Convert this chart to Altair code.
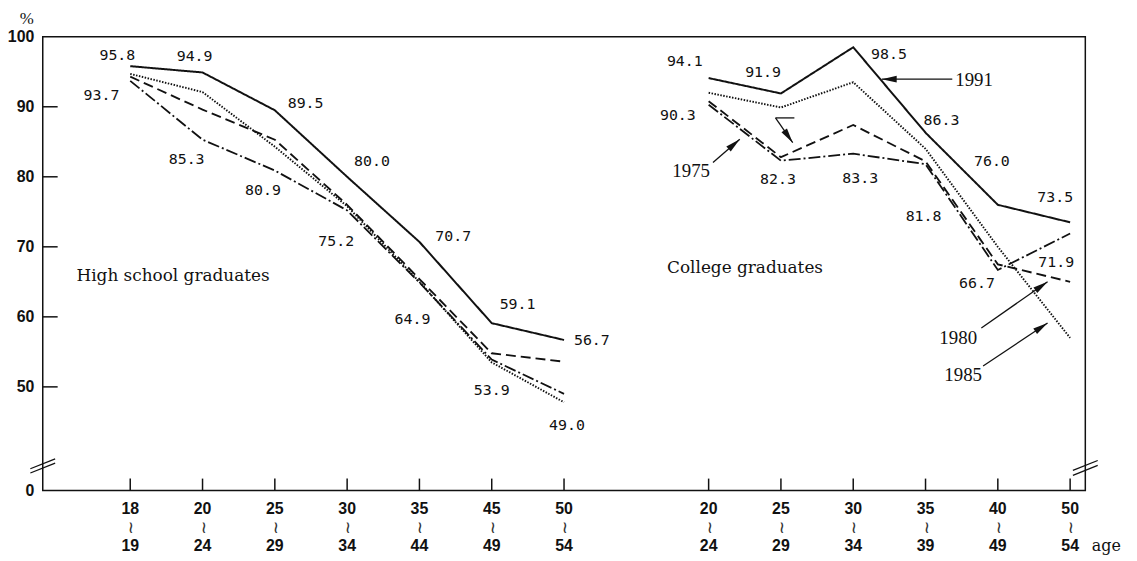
import math
import altair as alt
import pandas as pd

# ---------------- data ----------------
YEARS = ["1975", "1980", "1985", "1991"]

HS_TOP = ["18", "20", "25", "30", "35", "45", "50"]
HS_BOT = ["19", "24", "29", "34", "44", "49", "54"]
COL_TOP = ["20", "25", "30", "35", "40", "50"]
COL_BOT = ["24", "29", "34", "39", "49", "54"]

HS_1975 = [93.7, 85.3, 80.9, 75.2, 64.9, 53.9, 49.0]
HS_1980 = [94.3, 89.6, 85.3, 76.0, 65.4, 54.8, 53.6]
HS_1985 = [94.7, 92.1, 84.3, 75.8, 65.0, 53.5, 47.8]
HS_1991 = [95.8, 94.9, 89.5, 80.0, 70.7, 59.1, 56.7]

COL_1975 = [90.3, 82.3, 83.3, 81.8, 66.7, 71.9]
COL_1980 = [90.8, 82.8, 87.4, 82.2, 67.5, 65.0]
COL_1985 = [92.0, 89.9, 93.5, 84.0, 70.0, 57.0]
COL_1991 = [94.1, 91.9, 98.5, 86.3, 76.0, 73.5]

# slot positions on the shared x scale
HS_IDX = [0, 1, 2, 3, 4, 5, 6]
COL_IDX = [8, 9, 10, 11, 12, 13]

Y_TICKS = [50, 60, 70, 80, 90]
Y_LABEL_VALUES = [35.2, 50, 60, 70, 80, 90, 100]

# label offsets (pixels, relative to point) for labelled series
HS_1991_OFF = [(-13, -11), (-8, -17), (31, -7), (25, -16), (34, -6), (26, -19), (28, 0)]
HS_1975_OFF = [(-29, 14), (-16, 19), (-12, 20), (-11, 31), (-7, 37), (0, 31), (3, 31)]
COL_1991_OFF = [(-24, -17), (-18, -22), (36, 7), (16, -13), (-6, -44), (-15, -25)]
COL_1975_OFF = [(-31, 10), (-3, 18), (7, 25), (-2, 52), (-21, 13), (-14, 29)]

# annotations in data units
GROUP_TITLES = ["High school graduates", "College graduates"]
GROUP_TITLE_X = [-0.743, 7.425]
GROUP_TITLE_Y = [65.83, 66.96]

YEAR_NOTES = ["1991", "1975", "1980", "1985"]
YEAR_NOTE_X = [11.672, 7.758, 11.452, 11.52]
YEAR_NOTE_Y = [93.76, 80.79, 57.03, 51.64]

ARROW_TAIL_X = [11.37, 8.060, 11.772, 11.796, 8.925]
ARROW_TAIL_Y = [93.94, 82.03, 58.41, 52.98, 88.41]
ARROW_TIP_X = [10.395, 8.431, 12.688, 12.688, 9.163]
ARROW_TIP_Y = [93.94, 85.35, 65.02, 59.12, 84.87]
ELBOW_X = [8.925, 9.186]
ELBOW_Y = [88.41, 88.41]

BREAK_CX = [-1.21, -1.21, 13.21, 13.21]
BREAK_CY = [39.02, 38.41, 38.78, 38.07]

# ---------------- geometry ----------------
W, H = 1050, 457
X_DOMAIN = [-1.21, 13.21]
Y_DOMAIN = [35.2, 100]
PX_X = W / (X_DOMAIN[1] - X_DOMAIN[0])
PX_Y = H / (Y_DOMAIN[1] - Y_DOMAIN[0])

INK = "#111111"
NUM_FONT = "DejaVu Sans Mono"
AXIS_FONT = "Liberation Sans"
SERIF = "DejaVu Serif"
YEAR_FONT = "Liberation Serif"

xs = alt.Scale(domain=X_DOMAIN, nice=False, zero=False)
ys = alt.Scale(domain=Y_DOMAIN, nice=False, zero=False)
Y_AXIS = alt.Axis(
    values=Y_LABEL_VALUES,
    labelExpr="datum.value < 40 ? '0' : format(datum.value, 'd')",
    ticks=False, domain=False, grid=False, title=None,
    labelPadding=9, labelFontSize=16, labelFont=AXIS_FONT,
    labelFontWeight="bold", labelColor=INK, labelFlush=False,
    labelOverlap=False, labelBound=False,
)


def X(field):
    return alt.X(field, scale=xs, axis=None)


def Y(field):
    return alt.Y(field, scale=ys, axis=Y_AXIS)


# ---------------- tables ----------------
rows = []
for grp, idxs, series in [
    ("HS", HS_IDX, {"1975": HS_1975, "1980": HS_1980, "1985": HS_1985, "1991": HS_1991}),
    ("COL", COL_IDX, {"1975": COL_1975, "1980": COL_1980, "1985": COL_1985, "1991": COL_1991}),
]:
    for yr, vals in series.items():
        for i, v in zip(idxs, vals):
            rows.append(dict(series=grp + yr, year=yr, idx=i, value=v))
lines_df = pd.DataFrame(rows)

lab_rows = []
for idxs, vals, offs in [
    (HS_IDX, HS_1991, HS_1991_OFF),
    (HS_IDX, HS_1975, HS_1975_OFF),
    (COL_IDX, COL_1991, COL_1991_OFF),
    (COL_IDX, COL_1975, COL_1975_OFF),
]:
    for i, v, (dx, dy) in zip(idxs, vals, offs):
        lab_rows.append(dict(lx=i + dx / PX_X, ly=v - dy / PX_Y, text=f"{v:.1f}"))
labels_df = pd.DataFrame(lab_rows)

xt_df = pd.DataFrame(
    dict(idx=HS_IDX + COL_IDX, top=HS_TOP + COL_TOP, bot=HS_BOT + COL_BOT, mid=["~"] * 13)
)
yt_df = pd.DataFrame(dict(v=Y_TICKS))

arrow_df = pd.DataFrame(dict(x=ARROW_TAIL_X, y=ARROW_TAIL_Y, x2=ARROW_TIP_X, y2=ARROW_TIP_Y))
elbow_df = pd.DataFrame(dict(x=[ELBOW_X[0]], y=[ELBOW_Y[0]], x2=[ELBOW_X[1]], y2=[ELBOW_Y[1]]))

HEAD_SIZE = 225
HEAD_R = math.sqrt(HEAD_SIZE) / 2
head_rows = []
for tx, ty, hx, hy in zip(ARROW_TAIL_X, ARROW_TAIL_Y, ARROW_TIP_X, ARROW_TIP_Y):
    dxp = (hx - tx) * PX_X
    dyp = -(hy - ty) * PX_Y
    L = math.hypot(dxp, dyp)
    ang = math.degrees(math.atan2(dxp, -dyp)) % 360
    cx = hx - (dxp / L) * HEAD_R / PX_X
    cy = hy + (dyp / L) * HEAD_R / PX_Y
    head_rows.append(dict(x=cx, y=cy, ang=ang))
head_df = pd.DataFrame(head_rows)

brk_rows = []
for cx, cy in zip(BREAK_CX, BREAK_CY):
    brk_rows.append(dict(x=cx - 12.5 / PX_X, y=cy - 5 / PX_Y, x2=cx + 12.5 / PX_X, y2=cy + 5 / PX_Y))
brk_df = pd.DataFrame(brk_rows)

titles_df = pd.DataFrame(dict(x=GROUP_TITLE_X, y=GROUP_TITLE_Y, text=GROUP_TITLES))
years_df = pd.DataFrame(dict(x=YEAR_NOTE_X, y=YEAR_NOTE_Y, text=YEAR_NOTES))
pct_df = pd.DataFrame(dict(x=[-1.43], y=[102.6], text=["%"]))
age_df = pd.DataFrame(dict(x=[13.50], y=[27.25], text=["age"]))

# ---------------- layers ----------------
lines = alt.Chart(lines_df).mark_line(color=INK).encode(
    x=X("idx:Q"),
    y=Y("value:Q"),
    detail="series:N",
    order="idx:Q",
    strokeDash=alt.StrokeDash(
        "year:N",
        scale=alt.Scale(domain=YEARS, range=[[12, 3, 2, 3], [10, 5], [1.5, 1.5], [1, 0]]),
        legend=None,
    ),
    strokeWidth=alt.StrokeWidth(
        "year:N", scale=alt.Scale(domain=YEARS, range=[1.8, 2.0, 1.1, 2.0]), legend=None
    ),
)

value_labels = alt.Chart(labels_df).mark_text(
    font=NUM_FONT, fontSize=15, color=INK, align="center", baseline="middle"
).encode(x=X("lx:Q"), y=Y("ly:Q"), text="text:N")

ytick_rules = alt.Chart(yt_df).mark_rule(color=INK, strokeWidth=1.5).encode(
    y=Y("v:Q"), x=alt.value(0), x2=alt.value(15)
)
xtick_rules = alt.Chart(xt_df).mark_rule(color=INK, strokeWidth=1.5).encode(
    x=X("idx:Q"), y=alt.value(H), y2=alt.value(H - 12)
)
xlab_top = alt.Chart(xt_df).mark_text(
    font=AXIS_FONT, fontSize=16, fontWeight="bold", color=INK, baseline="middle"
).encode(x=X("idx:Q"), y=alt.value(H + 18.5), text="top:N")
xlab_mid = alt.Chart(xt_df).mark_text(
    font="DejaVu Sans", fontSize=17, color="#333333", baseline="middle", align="center", angle=90
).encode(x=X("idx:Q"), y=alt.value(H + 37.5), text="mid:N")
xlab_bot = alt.Chart(xt_df).mark_text(
    font=AXIS_FONT, fontSize=16, fontWeight="bold", color=INK, baseline="middle"
).encode(x=X("idx:Q"), y=alt.value(H + 56), text="bot:N")

arrows = alt.Chart(arrow_df).mark_rule(color=INK, strokeWidth=1.3).encode(
    x=X("x:Q"), y=Y("y:Q"), x2="x2:Q", y2="y2:Q"
)
elbow = alt.Chart(elbow_df).mark_rule(color=INK, strokeWidth=1.3).encode(
    x=X("x:Q"), y=Y("y:Q"), x2="x2:Q", y2="y2:Q"
)
heads = alt.Chart(head_df).mark_point(
    shape="M0,-1L0.45,1L-0.45,1Z", filled=True, color=INK, opacity=1, size=HEAD_SIZE
).encode(x=X("x:Q"), y=Y("y:Q"), angle=alt.Angle("ang:Q", scale=None))

breaks = alt.Chart(brk_df).mark_rule(color=INK, strokeWidth=1.3).encode(
    x=X("x:Q"), y=Y("y:Q"), x2="x2:Q", y2="y2:Q"
)

titles = alt.Chart(titles_df).mark_text(
    font=SERIF, fontSize=17, color=INK, align="left", baseline="middle"
).encode(x=X("x:Q"), y=Y("y:Q"), text="text:N")
years = alt.Chart(years_df).mark_text(
    font=YEAR_FONT, fontSize=19, color=INK, align="center", baseline="middle"
).encode(x=X("x:Q"), y=Y("y:Q"), text="text:N")
pct = alt.Chart(pct_df).mark_text(
    font=YEAR_FONT, fontSize=17, color=INK, align="center", baseline="middle"
).encode(x=X("x:Q"), y=Y("y:Q"), text="text:N")
age = alt.Chart(age_df).mark_text(
    font=SERIF, fontSize=16, color=INK, align="center", baseline="middle"
).encode(x=X("x:Q"), y=Y("y:Q"), text="text:N")

chart = (
    alt.layer(
        lines, value_labels, ytick_rules, xtick_rules, xlab_top, xlab_mid, xlab_bot,
        arrows, elbow, heads, breaks, titles, years, pct, age,
    )
    .properties(
        width=W,
        height=H,
        autosize=alt.AutoSizeParams(type="none"),
        padding={"left": 35, "top": 27, "right": 44, "bottom": 64},
        background="white",
    )
    .configure_view(stroke=INK, strokeWidth=1.5)
)

chart.save("out.html", embed_options={"renderer": "svg", "actions": False})
